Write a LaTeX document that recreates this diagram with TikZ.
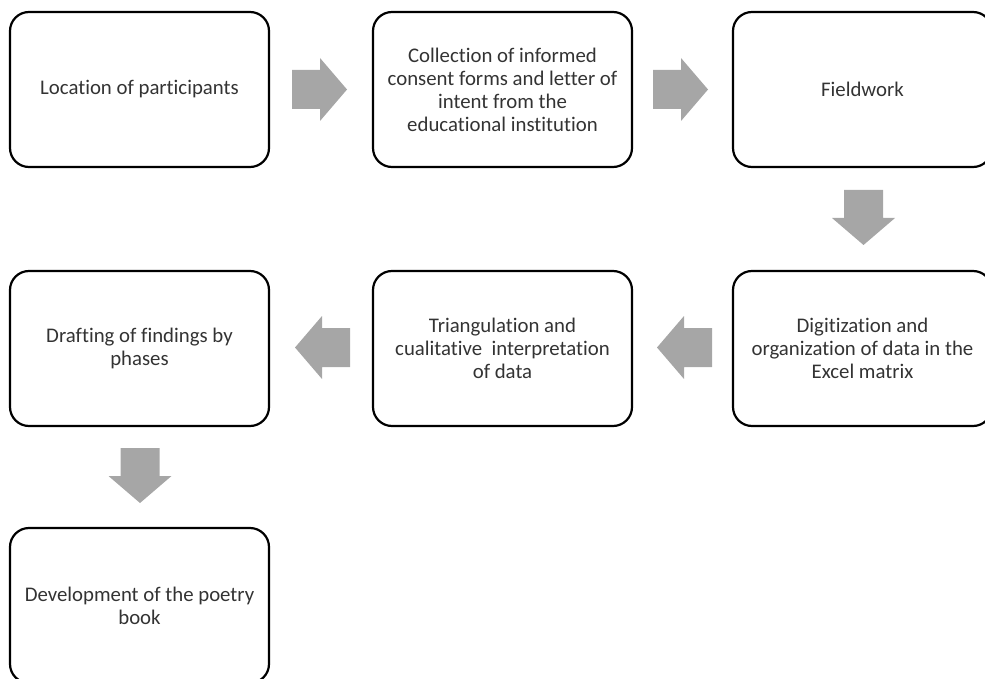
\documentclass[tikz,border=0pt]{standalone}
\usepackage{fontspec}
\setmainfont{Carlito}[Ligatures=NoCommon]
\begin{document}
\begin{tikzpicture}[x=1pt,y=-1pt,
  stepbox/.style={draw=black, line width=2.2pt, rounded corners=19pt,
    minimum width=259pt, minimum height=155pt, inner sep=0pt,
    align=center, text=black!80,
    font=\fontsize{20.8}{23}\selectfont},
  blockarrow/.pic={\fill[arrowgray] (-27.5,-19.5) -- (0.5,-19.5) -- (0.5,-31.5)
     -- (27.5,0) -- (0.5,31.5) -- (0.5,19.5) -- (-27.5,19.5) -- cycle;}
]
\definecolor{arrowgray}{HTML}{A6A6A6}
\useasboundingbox (0,0) rectangle (985,679);
\begin{scope}
\clip (0,0) rectangle (985,679);
\node[stepbox] (b1) at (139.5,89.5) {Location of participants};
\node[stepbox] (b2) at (502.5,89.5) {Collection of informed\\consent forms and letter of\\intent from the\\educational institution};
\node[stepbox] (b3) at (862.5,89.5) {Fieldwork};
\node[stepbox] (b6) at (862.5,348.5) {Digitization and\\organization of data in the\\Excel matrix};
\node[stepbox] (b5) at (502.5,348.5) {Triangulation and\\cualitative\ \ interpretation\\of data};
\node[stepbox] (b4) at (139.5,348.5) {Drafting of findings by\\phases};
\node[stepbox] (b7) at (139.5,605.5) {Development of the poetry\\book};
\end{scope}
\pic at (319.5,89.5) {blockarrow};
\pic at (680.5,89.5) {blockarrow};
\pic[rotate=-90] at (863.5,217.5) {blockarrow};
\pic[rotate=180] at (684.5,347.5) {blockarrow};
\pic[rotate=180] at (322.5,347.5) {blockarrow};
\pic[rotate=-90] at (140,475.5) {blockarrow};
\end{tikzpicture}
\end{document}
